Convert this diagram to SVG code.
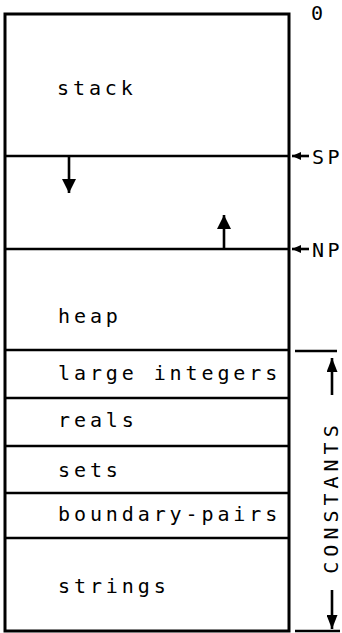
<svg xmlns="http://www.w3.org/2000/svg" width="342" height="633" viewBox="0 0 342 633">
<style>
.box{fill:none;stroke:#000;stroke-width:3}
.div{stroke:#000;stroke-width:2.6}
.t{font-family:"DejaVu Sans Mono","Liberation Mono",monospace;font-size:20px;letter-spacing:3.9px;fill:#000}
.lbl{font-family:"DejaVu Sans Mono","Liberation Mono",monospace;font-size:20px;letter-spacing:3.5px;fill:#000}
.ar{stroke:#000;stroke-width:2.6;fill:none}
</style>
<defs>
<marker id="big" viewBox="0 0 14 14" refX="14" refY="7" markerWidth="14" markerHeight="14" markerUnits="userSpaceOnUse" orient="auto"><path d="M0,0 L14,7 L0,14 z" fill="#000"/></marker>
<marker id="mid" viewBox="0 0 14 11" refX="14" refY="5.5" markerWidth="14" markerHeight="11" markerUnits="userSpaceOnUse" orient="auto"><path d="M0,0 L14,5.5 L0,11 z" fill="#000"/></marker>
<marker id="small" viewBox="0 0 9 8" refX="9" refY="4" markerWidth="9" markerHeight="8" markerUnits="userSpaceOnUse" orient="auto"><path d="M0,0 L9,4 L0,8 z" fill="#000"/></marker>
</defs>
<rect class="box" x="5" y="14" width="284" height="617"/>
<g id="stack"><text class="t" x="57" y="95">stack</text></g>
<g id="free"><line class="div" x1="5" y1="156" x2="289" y2="156"/></g>
<g id="heap"><line class="div" x1="5" y1="249" x2="289" y2="249"/><text class="t" x="58" y="323">heap</text></g>
<g id="large-integers"><line class="div" x1="5" y1="350" x2="289" y2="350"/><text class="t" x="58" y="380">large integers</text></g>
<g id="reals"><line class="div" x1="5" y1="398" x2="289" y2="398"/><text class="t" x="58" y="427">reals</text></g>
<g id="sets"><line class="div" x1="5" y1="446" x2="289" y2="446"/><text class="t" x="58" y="477">sets</text></g>
<g id="boundary-pairs"><line class="div" x1="5" y1="493" x2="289" y2="493"/><text class="t" x="58" y="521">boundary-pairs</text></g>
<g id="strings"><line class="div" x1="5" y1="538" x2="289" y2="538"/><text class="t" x="58" y="593">strings</text></g>
<g id="labels">
<text class="lbl" x="311" y="20">0</text>
<text class="lbl" x="312" y="164">SP</text>
<text class="lbl" x="312" y="257">NP</text>
<text class="lbl" text-anchor="middle" transform="translate(338,497) rotate(-90)" style="letter-spacing:5px">CONSTANTS</text>
</g>
<g id="connectors">
<line class="ar" x1="69" y1="156" x2="69" y2="193" marker-end="url(#big)"/>
<line class="ar" x1="224" y1="249" x2="224" y2="215" marker-end="url(#big)"/>
<line class="ar" x1="309" y1="156" x2="292" y2="156" marker-end="url(#small)"/>
<line class="ar" x1="309" y1="249" x2="292" y2="249" marker-end="url(#small)"/>
<line class="ar" x1="295" y1="351" x2="337" y2="351"/>
<line class="ar" x1="295" y1="631" x2="340" y2="631"/>
<line class="ar" x1="332" y1="395" x2="332" y2="358" marker-end="url(#mid)"/>
<line class="ar" x1="332" y1="590" x2="332" y2="629" marker-end="url(#mid)"/>
</g>
</svg>
